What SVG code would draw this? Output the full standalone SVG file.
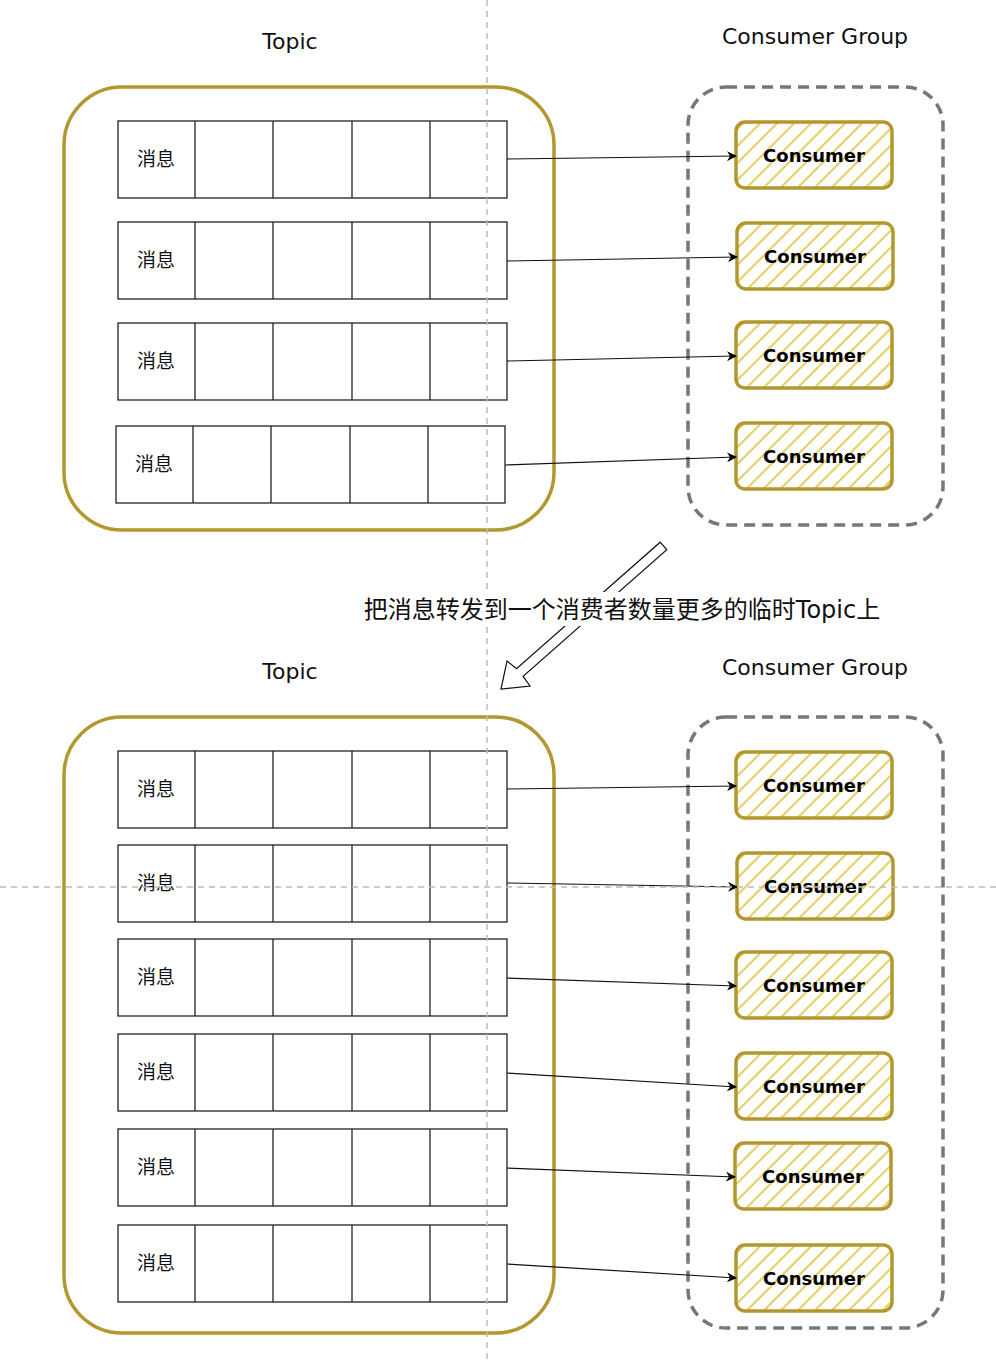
<svg xmlns="http://www.w3.org/2000/svg" width="996" height="1364" viewBox="0 0 996 1364">
<defs>
<pattern id="hatch" patternUnits="userSpaceOnUse" width="12" height="12" patternTransform="rotate(45)">
<line x1="6" y1="0" x2="6" y2="12" stroke="#dfc33a" stroke-width="1.6"/>
</pattern>
<marker id="arr" viewBox="0 0 10 10" refX="9" refY="5" markerWidth="10" markerHeight="10" markerUnits="userSpaceOnUse" orient="auto">
<path d="M0,0 L10,5 L0,10 L3,5 Z" fill="#000"/>
</marker>
<g id="row">
<rect x="0" y="0" width="389" height="77" fill="none" stroke="#222" stroke-width="1.3"/>
<line x1="77" y1="0" x2="77" y2="77" stroke="#222" stroke-width="1.3"/>
<line x1="155" y1="0" x2="155" y2="77" stroke="#222" stroke-width="1.3"/>
<line x1="234" y1="0" x2="234" y2="77" stroke="#222" stroke-width="1.3"/>
<line x1="312" y1="0" x2="312" y2="77" stroke="#222" stroke-width="1.3"/>
<text x="38" y="45" class="msg">消息</text>
</g>
<g id="cons">
<rect x="0" y="0" width="156" height="66" rx="9" fill="url(#hatch)" stroke="#b3982f" stroke-width="3.5"/>
<text x="78" y="40" class="cons">Consumer</text>
</g>
</defs>
<style>
.title{font-family:"DejaVu Sans",sans-serif;font-size:22px;fill:#111;text-anchor:middle}
.msg{font-family:"Noto Sans CJK SC",sans-serif;font-size:19px;fill:#111;text-anchor:middle}
.cons{font-family:"DejaVu Sans",sans-serif;font-weight:bold;font-size:18px;fill:#000;text-anchor:middle}
.topicbox{fill:none;stroke:#b3982f;stroke-width:3.5}
.groupbox{fill:none;stroke:#777;stroke-width:3.5;stroke-dasharray:11 7}
.conn{fill:none;stroke:#111;stroke-width:1.2;marker-end:url(#arr)}
.guide{stroke:#bbb;stroke-width:1.5;stroke-dasharray:6 5}
</style>

<g id="labels">
<text x="290" y="49" class="title">Topic</text>
<text x="815" y="44" class="title">Consumer Group</text>
<text x="290" y="679" class="title">Topic</text>
<text x="815" y="675" class="title">Consumer Group</text>
</g>

<g id="topic1">
<rect x="64" y="87" width="490" height="443" rx="58" class="topicbox"/>
<use href="#row" x="118" y="121"/>
<use href="#row" x="118" y="222"/>
<use href="#row" x="118" y="323"/>
<use href="#row" x="116" y="426"/>
</g>
<g id="group1">
<rect x="688" y="87" width="255" height="438" rx="38" class="groupbox"/>
<use href="#cons" x="736" y="122"/>
<use href="#cons" x="737" y="223"/>
<use href="#cons" x="736" y="322"/>
<use href="#cons" x="736" y="423"/>
</g>

<g id="transfer-arrow">
<polygon points="660.2,542.2 666.8,549.8 523.1,676.3 530,686 501,689 507,661 516.5,668.7" fill="#fff" stroke="#111" stroke-width="1.2" stroke-linejoin="miter"/>
</g>

<g id="topic2">
<rect x="64" y="717" width="490" height="616" rx="58" class="topicbox"/>
<use href="#row" x="118" y="751"/>
<use href="#row" x="118" y="845"/>
<use href="#row" x="118" y="939"/>
<use href="#row" x="118" y="1034"/>
<use href="#row" x="118" y="1129"/>
<use href="#row" x="118" y="1225"/>
</g>
<g id="group2">
<rect x="688" y="717" width="255" height="611" rx="38" class="groupbox"/>
<use href="#cons" x="736" y="752"/>
<use href="#cons" x="737" y="853"/>
<use href="#cons" x="736" y="952"/>
<use href="#cons" x="736" y="1053"/>
<use href="#cons" x="735" y="1143"/>
<use href="#cons" x="736" y="1245"/>
</g>

<g id="connectors">
<line x1="507" y1="159" x2="736" y2="156" class="conn"/>
<line x1="507" y1="261" x2="737" y2="257" class="conn"/>
<line x1="507" y1="361" x2="736" y2="356" class="conn"/>
<line x1="505" y1="465" x2="736" y2="457" class="conn"/>
<line x1="507" y1="789" x2="736" y2="786" class="conn"/>
<line x1="507" y1="883" x2="737" y2="887" class="conn"/>
<line x1="507" y1="978" x2="736" y2="986" class="conn"/>
<line x1="507" y1="1073" x2="736" y2="1087" class="conn"/>
<line x1="507" y1="1168" x2="735" y2="1177" class="conn"/>
<line x1="507" y1="1264" x2="736" y2="1278" class="conn"/>
</g>

<g id="guides">
<line x1="487" y1="0" x2="487" y2="1364" class="guide"/>
<line x1="0" y1="887" x2="996" y2="887" class="guide"/>
</g>

<g id="caption">
<rect x="360" y="592" width="524" height="34" fill="#fff"/>
<text x="622" y="618" style="font-family:'DejaVu Sans','Noto Sans CJK SC',sans-serif;font-size:24px;fill:#111;text-anchor:middle">把消息转发到一个消费者数量更多的临时Topic上</text>
</g>
</svg>
